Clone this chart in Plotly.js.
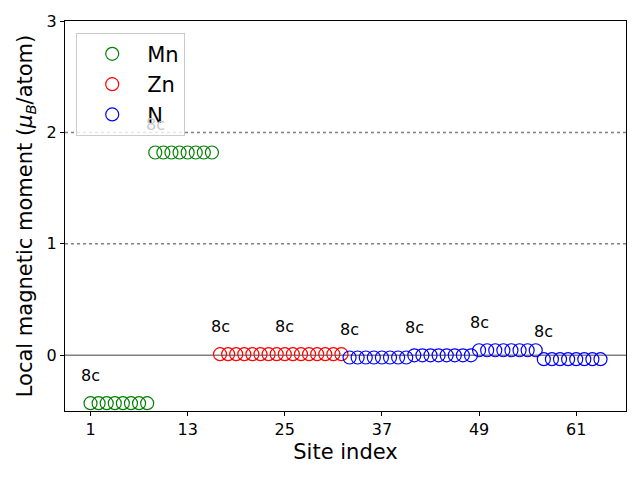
<!DOCTYPE html>
<html><head><meta charset="utf-8">
<script src="https://cdn.plot.ly/plotly-3.0.1.min.js"></script>
<style>body{margin:0}</style></head>
<body><div id="chart" style="width:640px;height:480px"></div>
<script>
const mnSites = [1,2,3,4,5,6,7,8,9,10,11,12,13,14,15,16];
const mnValues = [-0.43,-0.43,-0.43,-0.43,-0.43,-0.43,-0.43,-0.43,1.82,1.82,1.82,1.82,1.82,1.82,1.82,1.82];
const znSites = [17,18,19,20,21,22,23,24,25,26,27,28,29,30,31,32];
const znValues = [0.01,0.01,0.01,0.01,0.01,0.01,0.01,0.01,0.01,0.01,0.01,0.01,0.01,0.01,0.01,0.01];
const nSites = [33,34,35,36,37,38,39,40,41,42,43,44,45,46,47,48,49,50,51,52,53,54,55,56,57,58,59,60,61,62,63,64];
const nValues = [-0.02,-0.02,-0.02,-0.02,-0.02,-0.02,-0.02,-0.02,0.0,0.0,0.0,0.0,0.0,0.0,0.0,0.0,0.045,0.045,0.045,0.045,0.045,0.045,0.045,0.045,-0.035,-0.035,-0.035,-0.035,-0.035,-0.035,-0.035,-0.035];
const labelSites = [1,9,17,25,33,41,49,57];
const labelValues = [-0.18,2.07,0.26,0.26,0.23,0.25,0.295,0.215];
const labelText = ["8c","8c","8c","8c","8c","8c","8c","8c"];
const tickVals = [1,13,25,37,49,61];

const mk = c => ({symbol:'circle-open', size:13, color:c, line:{width:1.2, color:c}});
const traces = [
  {x:mnSites, y:mnValues, mode:'markers', name:'Mn', marker:mk('green')},
  {x:znSites, y:znValues, mode:'markers', name:'Zn', marker:mk('red')},
  {x:nSites, y:nValues, mode:'markers', name:'N', marker:mk('blue')}
];
const annotations = labelSites.map((s,i)=>({
  x:s, y:labelValues[i], text:labelText[i], showarrow:false,
  font:{size:16, color: i===1 ? '#c8c8c8' : 'black'}, xanchor:'center', yanchor:'middle'
}));
const shapes = [
  {type:'line', xref:'paper', x0:0, x1:1, y0:0, y1:0, line:{color:'gray', width:1.5}, layer:'below'},
  {type:'line', xref:'paper', x0:0, x1:1, y0:1, y1:1, line:{color:'gray', width:1.5, dash:'dot'}, layer:'below'},
  {type:'line', xref:'paper', x0:0, x1:1, y0:2, y1:2, line:{color:'gray', width:1.5, dash:'dot'}, layer:'below'}
];
const layout = {
  width:640, height:480,
  margin:{l:65, r:14, t:21, b:69},
  paper_bgcolor:'white', plot_bgcolor:'white',
  font:{family:'DejaVu Sans', color:'black'},
  showlegend:true,
  legend:{x:0.02, y:0.97, xanchor:'left', yanchor:'top', bgcolor:'rgba(255,255,255,0.8)',
    bordercolor:'#cccccc', borderwidth:1, font:{size:21}, tracegroupgap:4, itemwidth:60},
  xaxis:{range:[-2.15,67.15], tickvals:tickVals, ticktext:tickVals.map(String),
    ticks:'outside', ticklen:4, tickcolor:'black', showgrid:false, zeroline:false,
    showline:true, linecolor:'black', linewidth:1, mirror:true, tickfont:{size:16},
    title:{text:'Site index', font:{size:21}, standoff:6}},
  yaxis:{range:[-0.5,3], tickvals:[0,1,2,3], ticks:'outside', ticklen:4, tickcolor:'black',
    showgrid:false, zeroline:false, showline:true, linecolor:'black', linewidth:1, mirror:true,
    tickfont:{size:16},
    title:{text:'Local magnetic moment (<i>μ<sub>B</sub></i>/atom)', font:{size:21}, standoff:8}},
  annotations:annotations, shapes:shapes
};
Plotly.newPlot('chart', traces, layout, {displayModeBar:false});
</script></body></html>
